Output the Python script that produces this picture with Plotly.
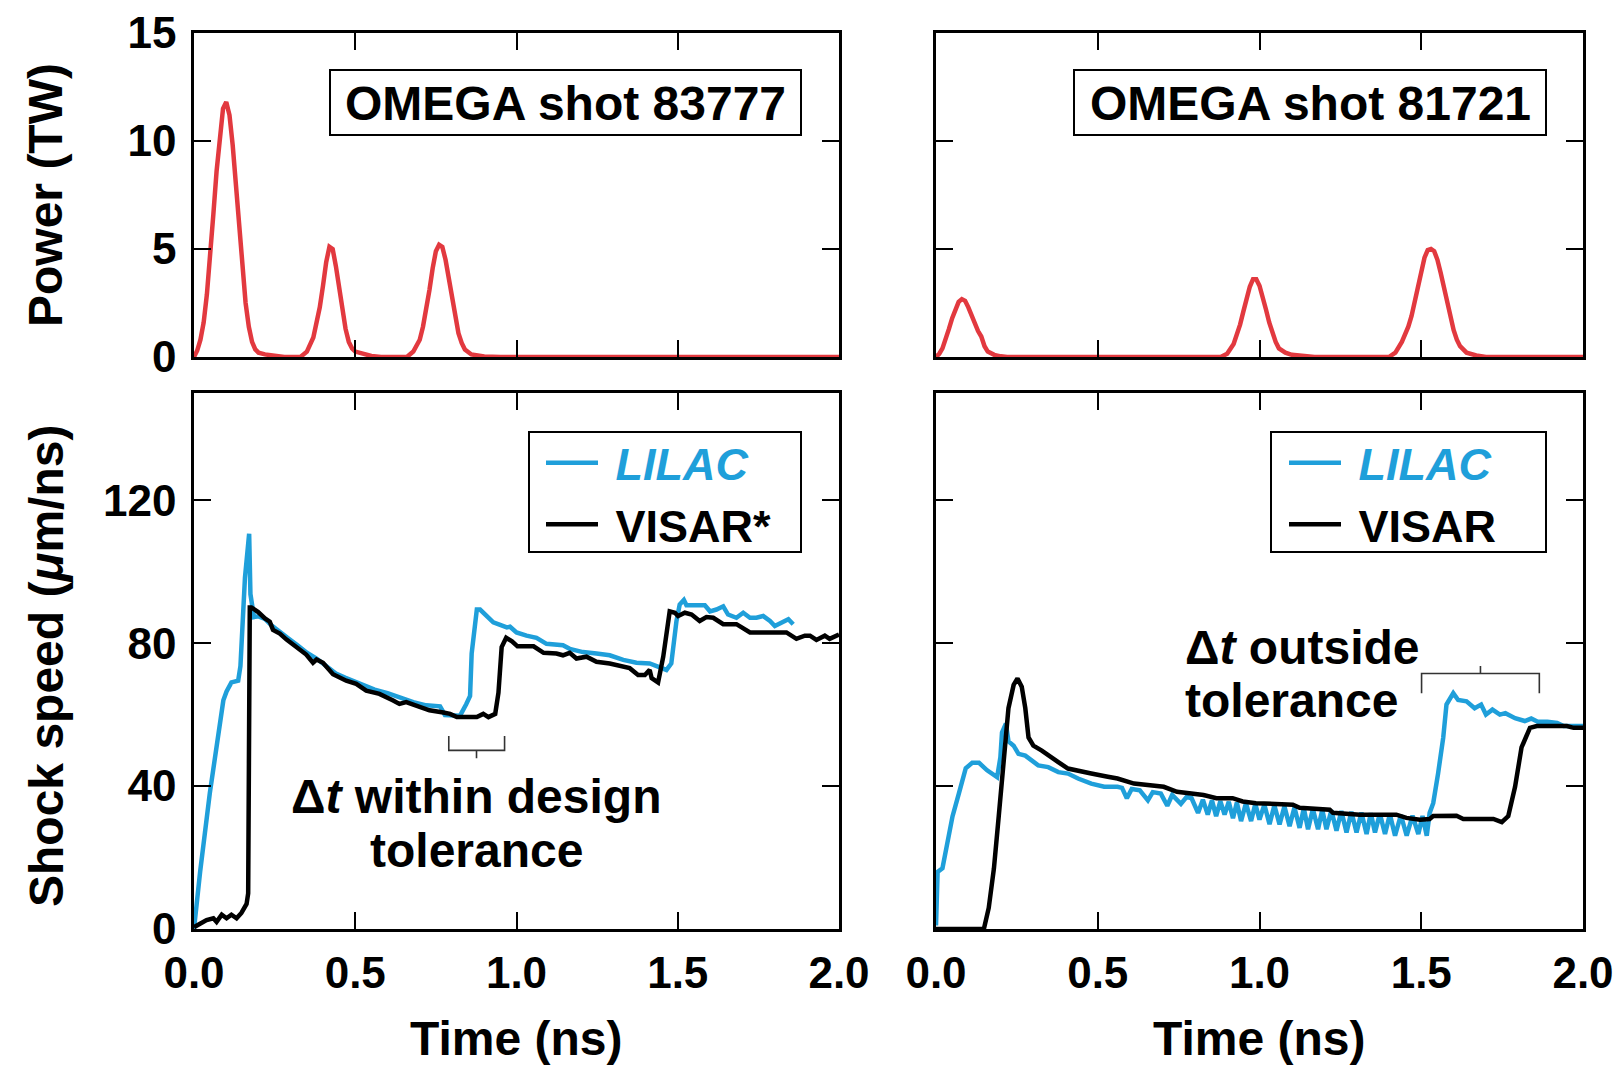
import plotly.graph_objects as go

# ---------------- data ----------------
# OMEGA shot 83777 laser power (TW)
p1_t = [0.00, 0.01, 0.02, 0.03, 0.04, 0.05, 0.06, 0.07, 0.08, 0.09, 0.10, 0.11, 0.12, 0.13, 0.14, 0.15,
        0.16, 0.17, 0.18, 0.19, 0.20, 0.22, 0.25, 0.28,
        0.33, 0.35, 0.37, 0.38, 0.39, 0.40, 0.41, 0.42, 0.43, 0.44, 0.45, 0.46, 0.47, 0.48, 0.49, 0.50,
        0.52, 0.55, 0.58,
        0.66, 0.68, 0.70, 0.71, 0.72, 0.73, 0.74, 0.75, 0.76, 0.77, 0.78, 0.79, 0.80, 0.81, 0.82, 0.83,
        0.84, 0.86, 0.90, 0.95, 2.00]
p1_P = [0.0, 0.3, 0.8, 1.6, 2.9, 4.6, 6.6, 8.6, 10.3, 11.5, 11.8, 11.2, 9.8, 8.0, 5.9, 4.0,
        2.5, 1.4, 0.7, 0.35, 0.2, 0.12, 0.05, 0.0,
        0.0, 0.25, 0.9, 1.5, 2.3, 3.3, 4.4, 5.1, 5.0, 4.2, 3.2, 2.2, 1.3, 0.7, 0.4, 0.25,
        0.15, 0.05, 0.0,
        0.0, 0.25, 0.8, 1.4, 2.2, 3.1, 4.1, 4.9, 5.2, 5.1, 4.5, 3.6, 2.6, 1.8, 1.1, 0.65,
        0.35, 0.12, 0.02, 0.0, 0.0]

# OMEGA shot 81721 laser power (TW)
p2_t = [0.00, 0.01, 0.02, 0.03, 0.04, 0.05, 0.06, 0.07, 0.08, 0.09, 0.10, 0.11, 0.12, 0.13, 0.14, 0.15,
        0.16, 0.18, 0.20, 0.22,
        0.88, 0.90, 0.92, 0.93, 0.94, 0.95, 0.96, 0.97, 0.98, 0.99, 1.00, 1.01, 1.02, 1.03, 1.04, 1.05,
        1.06, 1.08, 1.10, 1.14, 1.17,
        1.40, 1.42, 1.44, 1.46, 1.47, 1.48, 1.49, 1.50, 1.51, 1.52, 1.53, 1.54, 1.55, 1.56, 1.57, 1.58,
        1.59, 1.60, 1.61, 1.62, 1.64, 1.67, 1.70, 2.00]
p2_P = [0.0, 0.15, 0.4, 0.8, 1.3, 1.8, 2.25, 2.55, 2.68, 2.6, 2.3, 1.9, 1.5, 1.2, 0.95, 0.5,
        0.25, 0.1, 0.03, 0.0,
        0.0, 0.15, 0.6, 1.0, 1.5, 2.1, 2.7, 3.25, 3.6, 3.6, 3.3, 2.8, 2.2, 1.6, 1.1, 0.7,
        0.4, 0.2, 0.1, 0.02, 0.0,
        0.0, 0.2, 0.7, 1.4, 1.9, 2.6, 3.3, 4.0, 4.6, 4.95, 5.0, 4.9, 4.5, 3.9, 3.2, 2.5,
        1.8, 1.25, 0.8, 0.5, 0.2, 0.07, 0.0, 0.0]

# Shot 83777 shock speed (um/ns)
lilac1_t = [0.000, 0.019, 0.049, 0.070, 0.091, 0.101, 0.116, 0.137, 0.144, 0.158, 0.171, 0.175, 0.186,
            0.200, 0.220, 0.240, 0.260, 0.290, 0.320, 0.350, 0.380, 0.410, 0.440, 0.470, 0.500, 0.530,
            0.560, 0.600, 0.640, 0.680, 0.720, 0.763, 0.778, 0.825, 0.844, 0.856, 0.861, 0.877, 0.887,
            0.928, 0.943, 0.970, 0.980, 1.000, 1.031, 1.062, 1.093, 1.124, 1.144, 1.165, 1.206, 1.248,
            1.289, 1.331, 1.372, 1.413, 1.439, 1.465, 1.480, 1.496, 1.506, 1.519, 1.527, 1.584, 1.600,
            1.620, 1.641, 1.656, 1.682, 1.703, 1.724, 1.744, 1.765, 1.786, 1.801, 1.827, 1.843, 1.858]
lilac1_v = [0.0, 16.0, 38.0, 51.0, 64.0, 66.5, 69.0, 69.5, 73.6, 98.3, 110.6, 93.7, 87.3,
            87.5, 86.8, 85.0, 83.5, 81.5, 79.5, 77.3, 75.7, 73.5, 71.5, 70.3, 69.3, 68.0,
            67.0, 66.0, 64.6, 63.5, 62.6, 62.3, 59.9, 59.7, 62.9, 65.2, 77.1, 89.4, 89.4,
            85.8, 85.3, 84.4, 84.6, 83.0, 82.1, 81.5, 79.8, 79.4, 79.4, 78.4, 77.5, 77.1,
            76.6, 75.3, 74.5, 74.3, 73.4, 72.5, 74.3, 86.2, 90.8, 92.1, 90.6, 90.6, 88.9,
            89.4, 90.3, 88.0, 87.1, 88.5, 87.1, 87.1, 87.6, 86.2, 84.8, 85.8, 86.7, 85.3]

visar1_t = [0.000, 0.019, 0.039, 0.060, 0.070, 0.086, 0.101, 0.116, 0.132, 0.147, 0.163, 0.168, 0.173,
            0.178, 0.199, 0.220, 0.235, 0.245, 0.266, 0.287, 0.318, 0.348, 0.369, 0.380, 0.400, 0.431,
            0.472, 0.503, 0.534, 0.575, 0.616, 0.637, 0.658, 0.689, 0.730, 0.773, 0.794, 0.815, 0.877,
            0.897, 0.913, 0.934, 0.944, 0.954, 0.968, 0.986, 1.003, 1.053, 1.084, 1.124, 1.144, 1.165,
            1.186, 1.217, 1.248, 1.289, 1.331, 1.351, 1.377, 1.398, 1.413, 1.419, 1.439, 1.455, 1.475,
            1.491, 1.501, 1.522, 1.543, 1.568, 1.589, 1.610, 1.641, 1.682, 1.724, 1.837, 1.868, 1.894,
            1.910, 1.930, 1.956, 1.971, 2.000]
visar1_v = [0.5, 1.5, 2.5, 3.0, 2.0, 4.0, 3.0, 4.0, 3.0, 4.5, 7.0, 10.0, 90.0,
            90.0, 88.7, 86.9, 86.0, 83.7, 82.7, 81.0, 79.0, 76.8, 74.5, 75.4, 74.5, 71.3,
            69.5, 68.6, 66.7, 65.8, 64.0, 63.0, 63.5, 62.6, 61.2, 60.6, 60.2, 59.3, 59.3,
            60.2, 59.3, 60.2, 66.1, 78.9, 81.5, 80.5, 79.1, 79.1, 77.3, 77.1, 76.6, 77.3,
            75.7, 76.2, 74.8, 74.3, 73.4, 73.0, 71.1, 71.1, 72.5, 70.2, 69.0, 76.2, 88.9,
            88.5, 87.6, 88.5, 88.0, 86.2, 87.3, 87.1, 85.3, 85.3, 83.0, 83.0, 81.2, 82.1,
            82.1, 80.9, 82.1, 81.2, 82.4]

# Shot 81721 shock speed (um/ns)
lilac2_t = [0.000, 0.005, 0.020, 0.036, 0.051, 0.071, 0.092, 0.112, 0.133, 0.158, 0.189, 0.199, 0.204,
            0.216, 0.224, 0.240, 0.255, 0.276, 0.296, 0.316, 0.347, 0.378, 0.408, 0.439, 0.480, 0.520,
            0.561, 0.575, 0.590, 0.605, 0.630, 0.655, 0.670, 0.695, 0.715, 0.730, 0.757, 0.775, 0.790,
            0.810, 0.825, 0.840, 0.853, 0.866, 0.879, 0.892, 0.905, 0.918, 0.930, 0.943, 0.958, 0.974,
            0.987, 1.000, 1.015, 1.031, 1.046, 1.062, 1.077, 1.093, 1.108, 1.124, 1.137, 1.150, 1.165,
            1.181, 1.194, 1.207, 1.222, 1.238, 1.253, 1.269, 1.284, 1.300, 1.315, 1.331, 1.344, 1.357,
            1.372, 1.388, 1.403, 1.419, 1.437, 1.455, 1.473, 1.491, 1.504, 1.517, 1.526, 1.537, 1.552,
            1.568, 1.578, 1.599, 1.614, 1.640, 1.665, 1.685, 1.700, 1.720, 1.743, 1.760, 1.790, 1.820,
            1.840, 1.860, 1.890, 1.920, 1.940, 2.000]
lilac2_v = [1.0, 16.0, 17.0, 24.0, 31.5, 38.0, 45.0, 46.5, 46.5, 44.4, 42.5, 48.0, 55.0,
            57.5, 52.5, 51.3, 49.0, 48.5, 47.2, 45.8, 45.3, 43.9, 43.5, 42.1, 40.7, 39.8,
            39.8, 39.5, 36.6, 39.2, 38.8, 36.0, 38.3, 37.9, 34.5, 37.5, 35.0, 37.0, 36.6,
            32.5, 36.2, 32.0, 36.0, 31.6, 35.8, 32.0, 35.6, 31.0, 35.4, 30.2, 35.2, 30.2,
            35.0, 30.6, 34.8, 29.3, 34.6, 29.3, 34.3, 28.8, 34.0, 28.3, 33.8, 27.9, 33.6,
            27.9, 33.4, 27.9, 33.2, 27.5, 33.0, 27.0, 32.8, 27.0, 32.6, 26.6, 32.4, 27.0,
            32.3, 26.6, 32.1, 26.1, 31.9, 26.1, 31.7, 26.6, 31.6, 26.1, 32.5, 35.2, 43.5,
            53.6, 62.8, 66.0, 64.1, 63.7, 61.8, 62.8, 60.0, 61.4, 60.0, 60.4, 59.0, 58.2,
            58.9, 58.0, 58.0, 57.7, 56.8, 56.8]

visar2_t = [0.000, 0.092, 0.112, 0.148, 0.163, 0.179, 0.194, 0.209, 0.224, 0.240, 0.252, 0.265, 0.276,
            0.286, 0.301, 0.327, 0.347, 0.378, 0.408, 0.439, 0.480, 0.531, 0.561, 0.612, 0.663, 0.704,
            0.745, 0.827, 0.867, 0.917, 0.948, 0.989, 1.103, 1.124, 1.217, 1.227, 1.310, 1.423, 1.454,
            1.496, 1.526, 1.537, 1.609, 1.630, 1.723, 1.749, 1.769, 1.790, 1.810, 1.836, 1.857, 1.950,
            1.971, 2.000]
visar2_v = [0.0, 0.0, 0.0, 0.0, 5.9, 16.9, 31.6, 48.0, 61.8, 68.3, 70.1, 67.8, 61.8,
            53.6, 51.3, 49.9, 48.5, 46.7, 44.9, 44.4, 43.5, 42.6, 42.1, 40.7, 40.3, 39.8,
            38.4, 37.5, 36.6, 36.6, 35.7, 35.2, 34.8, 33.9, 33.4, 32.5, 32.0, 32.0, 31.1,
            30.6, 30.8, 31.6, 31.7, 30.8, 30.8, 29.9, 31.6, 39.8, 50.8, 56.3, 56.8, 56.8,
            56.3, 56.3]

x_ticks = [0.0, 0.5, 1.0, 1.5, 2.0]
power_ticks = [0, 5, 10, 15]
speed_ticks = [0, 40, 80, 120]

# ---------------- styling ----------------
W, H = 1619, 1067
FONT = "Liberation Sans, Arial, sans-serif"
RED = "#E2393F"
BLUE = "#1F9FDA"
BLACK = "#000000"
LW = 4.5


def px_x(p):
    return p / W


def px_y(p):
    return 1 - p / H


LX = [px_x(194), px_x(839)]
RX = [px_x(936), px_x(1583)]
TY = [px_y(357), px_y(33)]
BY = [px_y(929), px_y(393)]

fig = go.Figure()
fig.add_trace(go.Scatter(x=p1_t, y=p1_P, mode="lines", line=dict(color=RED, width=LW),
                         xaxis="x", yaxis="y", showlegend=False))
fig.add_trace(go.Scatter(x=p2_t, y=p2_P, mode="lines", line=dict(color=RED, width=LW),
                         xaxis="x2", yaxis="y2", showlegend=False))
fig.add_trace(go.Scatter(x=lilac1_t, y=lilac1_v, mode="lines", line=dict(color=BLUE, width=LW),
                         xaxis="x3", yaxis="y3",
                         name=f" <span style='color:{BLUE}'><i>LILAC</i></span>", legend="legend"))
fig.add_trace(go.Scatter(x=visar1_t, y=visar1_v, mode="lines", line=dict(color=BLACK, width=LW),
                         xaxis="x3", yaxis="y3", name=" VISAR*", legend="legend"))
fig.add_trace(go.Scatter(x=lilac2_t, y=lilac2_v, mode="lines", line=dict(color=BLUE, width=LW),
                         xaxis="x4", yaxis="y4",
                         name=f" <span style='color:{BLUE}'><i>LILAC</i></span>", legend="legend2"))
fig.add_trace(go.Scatter(x=visar2_t, y=visar2_v, mode="lines", line=dict(color=BLACK, width=LW),
                         xaxis="x4", yaxis="y4", name=" VISAR", legend="legend2"))

axis_common = dict(showline=True, linecolor="black", linewidth=2.5, mirror="ticks",
                   ticks="inside", ticklen=17, tickwidth=2, tickcolor="black",
                   showgrid=False, zeroline=False, automargin=False,
                   tickfont=dict(family=FONT, size=44, color="black", weight="bold"))

legend_common = dict(xanchor="left", yanchor="top", y=px_y(427),
                     borderwidth=0, bgcolor="rgba(0,0,0,0)",
                     font=dict(family=FONT, size=45, color="black", weight="bold"),
                     tracegroupgap=0, itemwidth=52)

fig.update_layout(
    template="none",
    width=W, height=H, autosize=False,
    margin=dict(l=0, r=0, t=0, b=0, autoexpand=False),
    paper_bgcolor="white", plot_bgcolor="white",
    font=dict(family=FONT, color="black"),
    xaxis=dict(domain=LX, anchor="y", range=[0, 2], tickvals=x_ticks, showticklabels=False, **axis_common),
    yaxis=dict(domain=TY, anchor="x", range=[0, 15], tickvals=power_ticks, ticklabelstandoff=6, **axis_common),
    xaxis2=dict(domain=RX, anchor="y2", range=[0, 2], tickvals=x_ticks, showticklabels=False, **axis_common),
    yaxis2=dict(domain=TY, anchor="x2", range=[0, 15], tickvals=power_ticks, showticklabels=False, **axis_common),
    xaxis3=dict(domain=LX, anchor="y3", range=[0, 2], tickvals=x_ticks, tickformat=".1f", ticklabelstandoff=3, **axis_common),
    yaxis3=dict(domain=BY, anchor="x3", range=[0, 150], tickvals=speed_ticks, ticklabelstandoff=6, **axis_common),
    xaxis4=dict(domain=RX, anchor="y4", range=[0, 2], tickvals=x_ticks, tickformat=".1f", ticklabelstandoff=3, **axis_common),
    yaxis4=dict(domain=BY, anchor="x4", range=[0, 150], tickvals=speed_ticks, showticklabels=False, **axis_common),
    legend=dict(x=px_x(541), **legend_common),
    legend2=dict(x=px_x(1284), **legend_common),
)

TITLE_FONT = dict(family=FONT, size=48, color="black", weight="bold")
annotations = [
    dict(text="Power (TW)", x=px_x(46), y=px_y(195), textangle=-90),
    dict(text="Shock speed (<i>μ</i>m/ns)", x=px_x(46), y=px_y(666), textangle=-90),
    dict(text="Time (ns)", x=px_x(516), y=0.0, yanchor="bottom"),
    dict(text="Time (ns)", x=px_x(1259), y=0.0, yanchor="bottom"),
    dict(text="OMEGA shot 83777", x=px_x(565), y=px_y(103)),
    dict(text="OMEGA shot 81721", x=px_x(1310), y=px_y(103)),
    dict(text="Δ<i>t</i> within design", x=px_x(476), y=px_y(796)),
    dict(text="tolerance", x=px_x(476), y=px_y(850)),
    dict(text="Δ<i>t</i> outside", x=px_x(1183), y=px_y(647), xanchor="left"),
    dict(text="tolerance", x=px_x(1183), y=px_y(700), xanchor="left"),
]
for a in annotations:
    a.setdefault("xanchor", "center")
    a.setdefault("yanchor", "middle")
    fig.add_annotation(xref="paper", yref="paper", showarrow=False, font=TITLE_FONT, **a)

# title boxes and legend frames
for x0, x1, y0, y1 in [(330, 801, 70, 135), (1074, 1546, 70, 135),
                       (529, 801, 432, 552), (1271, 1546, 432, 552)]:
    fig.add_shape(type="rect", xref="paper", yref="paper", x0=px_x(x0), x1=px_x(x1),
                  y0=px_y(y1), y1=px_y(y0), line=dict(color="black", width=2),
                  fillcolor="rgba(0,0,0,0)", layer="above")

# delta-t brackets
fig.add_shape(type="path", xref="x3", yref="y3",
              path="M 0.790,54 L 0.790,50 L 0.963,50 L 0.963,54 M 0.876,50 L 0.876,47.8",
              line=dict(color="#333333", width=1.6))
fig.add_shape(type="path", xref="x4", yref="y4",
              path="M 1.501,66 L 1.501,71.5 L 1.865,71.5 L 1.865,66 M 1.683,71.5 L 1.683,73.6",
              line=dict(color="#333333", width=1.6))

fig.write_html("out.html")
